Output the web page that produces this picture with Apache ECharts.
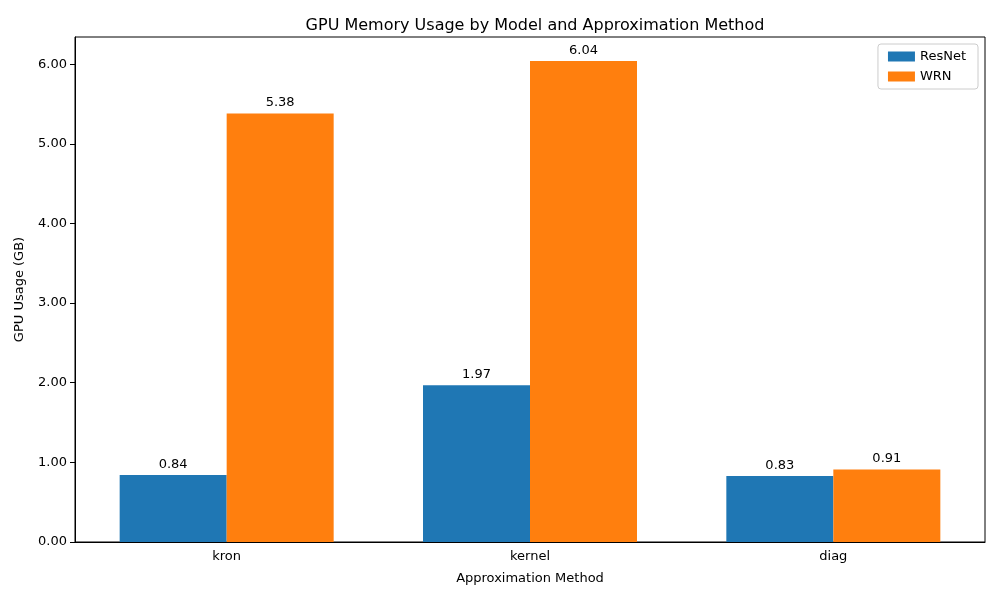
<!DOCTYPE html>
<html><head><meta charset="utf-8">
<script src="https://cdn.jsdelivr.net/npm/echarts@6/dist/echarts.min.js"></script>
<style>html,body{margin:0;padding:0;background:#fff}#c{width:1000px;height:600px}</style>
</head><body><div id="c"></div>
<script>
const categories = ['kron', 'kernel', 'diag'];
const resnet = [0.84, 1.97, 0.83];
const wrn = [5.38, 6.04, 0.91];
const yTicks = [0, 1, 2, 3, 4, 5, 6];

const chart = echarts.init(document.getElementById('c'));
const font = 'DejaVu Sans';
const lbl = {show: true, position: 'top', distance: 4, color: '#000', fontFamily: font, fontSize: 13,
  formatter: p => p.value.toFixed(2)};
chart.setOption({
  animation: false,
  textStyle: {fontFamily: font},
  title: {text: 'GPU Memory Usage by Model and Approximation Method', left: 530, top: 13, textAlign: 'center',
    textStyle: {fontFamily: font, fontSize: 16, fontWeight: 'normal', color: '#000'}},
  legend: {right: 22, top: 44, orient: 'vertical', itemWidth: 27, itemHeight: 10, itemGap: 7,
    padding: [6, 12, 6, 10], borderColor: '#ccc', borderWidth: 1, borderRadius: 3,
    textStyle: {fontFamily: font, fontSize: 13, color: '#000'},
    data: [{name: 'ResNet', icon: 'rect'}, {name: 'WRN', icon: 'rect'}]},
  grid: {left: 75, right: 15, top: 37, bottom: 58, show: true, borderColor: '#000', borderWidth: 1, containLabel: false},
  xAxis: {type: 'category', data: categories,
    name: 'Approximation Method', nameLocation: 'middle', nameGap: 30,
    nameTextStyle: {fontFamily: font, fontSize: 13, color: '#000'},
    axisLine: {lineStyle: {color: '#000'}},
    axisTick: {alignWithLabel: true, length: 5, lineStyle: {color: '#000'}},
    axisLabel: {color: '#000', fontFamily: font, fontSize: 13, margin: 8}},
  yAxis: {type: 'value', min: 0, max: 6.342, interval: 1,
    name: 'GPU Usage (GB)', nameLocation: 'middle', nameGap: 49,
    nameTextStyle: {fontFamily: font, fontSize: 13, color: '#000'},
    splitLine: {show: false},
    axisLine: {show: true, lineStyle: {color: '#000'}},
    axisTick: {show: true, length: 5, customValues: yTicks, lineStyle: {color: '#000'}},
    axisLabel: {color: '#000', fontFamily: font, fontSize: 13, margin: 8, customValues: yTicks,
      formatter: v => v.toFixed(2)}},
  series: [
    {name: 'ResNet', type: 'bar', data: resnet, barWidth: 107, barGap: '0%',
      itemStyle: {color: '#1f77b4'}, label: lbl},
    {name: 'WRN', type: 'bar', data: wrn, barWidth: 107, barGap: '0%',
      itemStyle: {color: '#ff7f0e'}, label: lbl}
  ]
});
</script></body></html>
